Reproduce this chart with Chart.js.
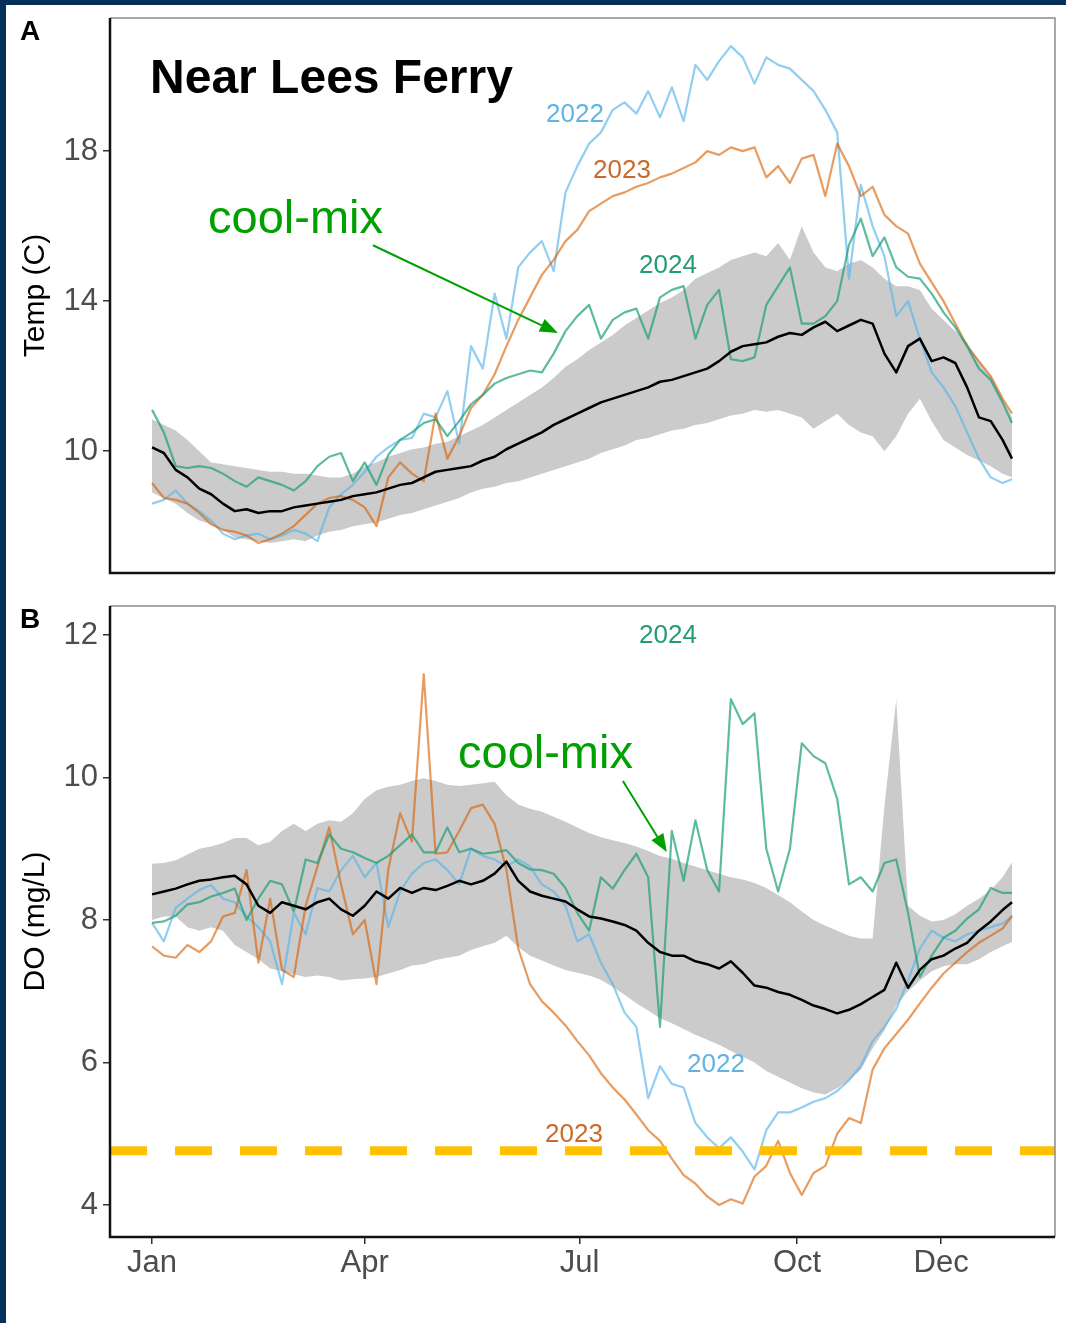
<!DOCTYPE html>
<html lang="en">
<head>
<meta charset="UTF-8">
<title>Near Lees Ferry</title>
<script src="https://cdn.jsdelivr.net/npm/chart.js"></script>
<style>
  html, body { margin: 0; padding: 0; background: #fff; }
  #page { position: relative; width: 1066px; height: 1323px; overflow: hidden; background: #fff; }
  canvas { position: absolute; left: 0; }
  #tempChart { top: 0; }
  #doChart { top: 590px; }
  .band { position: absolute; background: #04305a; z-index: 2; }
  .band.top { left: 0; top: 0; width: 1066px; height: 5px; }
  .band.left { left: 0; top: 0; width: 6px; height: 1323px; }
</style>
</head>
<body>
<div id="page">
  <canvas id="tempChart" width="1066" height="590"></canvas>
  <canvas id="doChart" width="1066" height="733"></canvas>
  <div class="band top"></div>
  <div class="band left"></div>
</div>

<script>
// day of year for every sample
const days = [1, 6, 11, 16, 21, 26, 31, 36, 41, 46, 51, 56, 61, 66, 71, 76, 81, 86, 91, 96,
  101, 106, 111, 116, 121, 126, 131, 136, 141, 146, 151, 156, 161, 166, 171, 176, 181, 186, 191, 196,
  201, 206, 211, 216, 221, 226, 231, 236, 241, 246, 251, 256, 261, 266, 271, 276, 281, 286, 291, 296,
  301, 306, 311, 316, 321, 326, 331, 336, 341, 346, 351, 356, 361, 365];

const tickDays = [1, 91, 182, 274, 335];
const tickLabels = ['Jan', 'Apr', 'Jul', 'Oct', 'Dec'];
const tempTicks = [10, 14, 18];
const doTicks = [4, 6, 8, 10, 12];
const doThreshold = 4.76;

// Panel A - water temperature (C)
const tempMean = [10.1, 9.95, 9.5, 9.3, 9.0, 8.85, 8.6, 8.4, 8.45, 8.35,
  8.4, 8.4, 8.5, 8.55, 8.6, 8.65, 8.7, 8.8, 8.85, 8.9,
  9.0, 9.1, 9.15, 9.3, 9.45, 9.5, 9.55, 9.6, 9.75, 9.85,
  10.05, 10.2, 10.35, 10.5, 10.7, 10.85, 11.0, 11.15, 11.3, 11.4,
  11.5, 11.6, 11.7, 11.85, 11.9, 12.0, 12.1, 12.2, 12.4, 12.65,
  12.8, 12.85, 12.9, 13.05, 13.15, 13.1, 13.3, 13.45, 13.2, 13.35,
  13.5, 13.4, 12.6, 12.1, 12.8, 13.0, 12.4, 12.5, 12.35, 11.7,
  10.9, 10.8, 10.3, 9.8];
const tempHi = [10.85, 10.7, 10.55, 10.3, 10.0, 9.7, 9.65, 9.6, 9.55, 9.5,
  9.45, 9.45, 9.4, 9.4, 9.35, 9.3, 9.3, 9.4, 9.6, 9.7,
  9.85, 9.95, 10.05, 10.1, 10.2, 10.25, 10.4, 10.55, 10.7, 10.9,
  11.1, 11.3, 11.5, 11.7, 11.95, 12.25, 12.45, 12.7, 12.9, 13.1,
  13.35, 13.55, 13.75, 13.95, 14.1, 14.3, 14.6, 14.75, 14.9, 15.1,
  15.2, 15.3, 15.2, 15.55, 15.1, 16.0, 15.3, 14.9, 14.8, 15.0,
  15.1, 14.9, 14.6, 14.4, 14.4, 14.3, 13.8, 13.5, 13.2, 12.9,
  12.4, 12.0, 11.4, 10.9];
const tempLo = [8.9, 8.75, 8.6, 8.35, 8.15, 8.05, 7.9, 7.7, 7.65, 7.6,
  7.55, 7.6, 7.65, 7.6, 7.75, 7.85, 7.9, 8.0, 8.05, 8.1,
  8.2, 8.3, 8.35, 8.45, 8.55, 8.65, 8.75, 8.9, 9.0, 9.05,
  9.15, 9.2, 9.3, 9.4, 9.5, 9.6, 9.7, 9.8, 9.95, 10.05,
  10.15, 10.3, 10.35, 10.45, 10.55, 10.6, 10.7, 10.75, 10.85, 10.95,
  11.0, 11.1, 11.05, 11.1, 11.0, 10.9, 10.6, 10.8, 11.0, 10.7,
  10.5, 10.4, 10.0, 10.4, 11.0, 11.4, 10.8, 10.3, 10.1, 9.9,
  9.75, 9.6, 9.4, 9.3];
const temp2022 = [8.6, 8.7, 8.95, 8.6, 8.4, 8.15, 7.8, 7.65, 7.75, 7.8,
  7.65, 7.75, 7.9, 7.8, 7.6, 8.5, 8.85, 9.1, 9.45, 9.85,
  10.1, 10.3, 10.35, 11.0, 10.9, 11.6, 10.2, 12.8, 12.2, 14.2,
  13.0, 14.9, 15.3, 15.6, 14.8, 16.9, 17.6, 18.2, 18.5, 19.1,
  19.3, 19.0, 19.6, 18.9, 19.7, 18.8, 20.3, 19.9, 20.4, 20.8,
  20.5, 19.8, 20.5, 20.3, 20.2, 19.9, 19.6, 19.1, 18.5, 14.6,
  17.1, 16.0, 15.2, 13.6, 14.0, 13.0, 12.1, 11.7, 11.2, 10.5,
  9.8, 9.3, 9.15, 9.25];
const temp2023 = [9.15, 8.75, 8.7, 8.6, 8.35, 8.05, 7.9, 7.85, 7.75, 7.55,
  7.65, 7.8, 8.0, 8.3, 8.6, 8.75, 8.8, 8.7, 8.5, 8.0,
  9.3, 9.7, 9.4, 9.2, 11.0, 9.8, 10.4, 11.15, 11.5, 12.05,
  12.8, 13.5, 14.1, 14.7, 15.1, 15.6, 15.9, 16.4, 16.6, 16.8,
  16.9, 17.05, 17.15, 17.3, 17.4, 17.55, 17.7, 18.0, 17.9, 18.1,
  18.0, 18.1, 17.3, 17.6, 17.15, 17.8, 17.9, 16.8, 18.2, 17.6,
  16.8, 17.05, 16.3, 16.0, 15.8, 15.0, 14.5, 14.0, 13.4, 12.8,
  12.4, 12.0, 11.4, 11.0];
const temp2024 = [11.1, 10.5, 9.6, 9.55, 9.6, 9.55, 9.4, 9.2, 9.05, 9.3,
  9.2, 9.1, 8.95, 9.2, 9.6, 9.85, 9.95, 9.2, 9.7, 9.1,
  9.9, 10.3, 10.5, 10.75, 10.85, 10.4, 10.8, 11.25, 11.5, 11.8,
  11.95, 12.05, 12.15, 12.1, 12.6, 13.2, 13.6, 13.9, 13.0, 13.5,
  13.7, 13.8, 13.0, 14.1, 14.3, 14.4, 13.0, 13.9, 14.3, 12.45,
  12.4, 12.5, 13.9, 14.4, 14.9, 13.4, 13.4, 13.6, 14.0, 15.5,
  16.2, 15.2, 15.7, 14.9, 14.65, 14.6, 14.2, 13.7, 13.3, 12.8,
  12.2, 11.9, 11.3, 10.75];

// Panel B - dissolved oxygen (mg/L)
const doMean = [8.36, 8.4, 8.44, 8.5, 8.55, 8.57, 8.6, 8.62, 8.5, 8.2,
  8.1, 8.25, 8.2, 8.15, 8.25, 8.3, 8.15, 8.06, 8.2, 8.4,
  8.3, 8.45, 8.38, 8.45, 8.42, 8.48, 8.55, 8.5, 8.55, 8.65,
  8.82, 8.55, 8.4, 8.34, 8.3, 8.26, 8.15, 8.05, 8.02, 7.98,
  7.93, 7.85, 7.68, 7.55, 7.5, 7.5, 7.42, 7.38, 7.32, 7.42,
  7.26, 7.08, 7.05, 6.99, 6.95, 6.88, 6.8, 6.75, 6.69, 6.74,
  6.82, 6.92, 7.02, 7.4, 7.05, 7.3, 7.45, 7.5, 7.6, 7.68,
  7.85, 7.98, 8.14, 8.25];
const doHi = [8.79, 8.8, 8.84, 8.92, 9.0, 9.03, 9.08, 9.15, 9.15, 9.05,
  9.1, 9.25, 9.35, 9.25, 9.35, 9.4, 9.38, 9.5, 9.7, 9.82,
  9.87, 9.9, 9.95, 9.99, 9.95, 9.9, 9.88, 9.9, 9.92, 9.94,
  9.75, 9.62, 9.56, 9.52, 9.45, 9.38, 9.3, 9.22, 9.16, 9.12,
  9.08, 9.03, 8.97, 8.9, 8.86, 8.8, 8.75, 8.7, 8.65, 8.6,
  8.57, 8.52, 8.45, 8.35, 8.25, 8.12, 8.0, 7.92, 7.85, 7.78,
  7.74, 7.74, 9.6, 11.1, 8.2, 8.06, 7.98, 8.0, 8.08, 8.2,
  8.3, 8.42, 8.6, 8.81];
const doLo = [8.0, 8.05, 8.05, 7.9, 7.85, 7.9, 7.85, 7.65, 7.55, 7.45,
  7.32, 7.28, 7.24, 7.2, 7.22, 7.2, 7.15, 7.17, 7.18, 7.2,
  7.25, 7.3, 7.36, 7.38, 7.44, 7.47, 7.5, 7.58, 7.63, 7.68,
  7.78, 7.62, 7.5, 7.43, 7.36, 7.3, 7.26, 7.22, 7.16, 7.06,
  6.95, 6.83, 6.73, 6.62, 6.55, 6.47, 6.39, 6.32, 6.25, 6.16,
  6.08, 6.0, 5.88, 5.8, 5.72, 5.64, 5.58, 5.55, 5.64, 5.75,
  5.9, 6.2, 6.45, 6.8, 7.0, 7.15, 7.28, 7.35, 7.38, 7.38,
  7.45, 7.55, 7.63, 7.69];
const do2022 = [7.96, 7.7, 8.17, 8.3, 8.42, 8.49, 8.3, 8.25, 8.05, 7.9,
  7.7, 7.1, 8.1, 7.8, 8.45, 8.4, 8.7, 8.9, 8.6, 8.8,
  7.9, 8.4, 8.65, 8.8, 8.85, 8.7, 8.5, 9.0, 8.9, 8.85,
  8.75, 8.85, 8.75, 8.5, 8.4, 8.2, 7.7, 7.8, 7.4, 7.1,
  6.7, 6.5, 5.5, 5.95, 5.7, 5.65, 5.15, 4.95, 4.8, 4.95,
  4.75, 4.5, 5.05, 5.3, 5.3, 5.37, 5.45, 5.5, 5.6, 5.75,
  5.95, 6.3, 6.5, 6.75, 7.15, 7.6, 7.85, 7.75, 7.7, 7.8,
  7.85, 7.9, 7.95, 8.05];
const do2023 = [7.63, 7.5, 7.47, 7.65, 7.55, 7.7, 8.05, 8.1, 8.7, 7.4,
  8.3, 7.3, 7.2, 8.2, 8.75, 9.3, 8.5, 7.8, 8.0, 7.1,
  8.71, 9.5, 9.1, 11.45, 8.93, 8.95, 9.25, 9.57, 9.62, 9.35,
  8.7, 7.6, 7.1, 6.86, 6.7, 6.52, 6.3, 6.1, 5.85, 5.65,
  5.48, 5.27, 5.05, 4.9, 4.65, 4.42, 4.3, 4.12, 4.0, 4.08,
  4.02, 4.4, 4.55, 4.9, 4.45, 4.14, 4.45, 4.55, 5.0, 5.22,
  5.15, 5.9, 6.2, 6.4, 6.6, 6.83, 7.05, 7.25, 7.4, 7.55,
  7.68, 7.78, 7.88, 8.06];
const do2024 = [7.96, 7.98, 8.06, 8.22, 8.25, 8.33, 8.38, 8.44, 8.0, 8.3,
  8.55, 8.5, 8.12, 8.85, 8.8, 9.2, 9.0, 8.95, 8.87, 8.8,
  8.9, 9.05, 9.2, 8.95, 8.95, 9.3, 8.95, 9.0, 8.93, 8.95,
  8.98, 8.8, 8.71, 8.7, 8.65, 8.45, 8.1, 7.85, 8.6, 8.44,
  8.7, 8.93, 8.6, 6.5, 9.25, 8.55, 9.4, 8.7, 8.4, 11.1,
  10.75, 10.9, 9.0, 8.4, 9.0, 10.48, 10.3, 10.2, 9.7, 8.5,
  8.6, 8.4, 8.8, 8.85, 8.1, 7.2, 7.5, 7.75, 7.85, 8.02,
  8.15, 8.45, 8.38, 8.38];

const xMin = -16.8, xMax = 383.2;
const col2022 = 'rgba(86, 180, 233, 0.65)';
const col2023 = 'rgba(217, 95, 2, 0.62)';
const col2024 = 'rgba(27, 158, 119, 0.7)';
const txt2022 = '#62b3e3', txt2023 = '#c9692a', txt2024 = '#239b77';
const green = '#00a000';

Chart.defaults.font.family = "'Liberation Sans', Arial, sans-serif";

function pts(arr) {
  return days.map((d, i) => ({ x: d, y: arr[i] }));
}

function panelDatasets(lo, hi, y22, y23, y24, mean) {
  const line = (arr, color, w, order) => ({
    data: pts(arr), borderColor: color, borderWidth: w, pointRadius: 0, fill: false, order: order
  });
  return [
    { data: pts(lo), borderWidth: 0, pointRadius: 0, fill: false, order: 10 },
    { data: pts(hi), borderWidth: 0, pointRadius: 0, fill: '-1', backgroundColor: '#cbcbcb', order: 9 },
    line(y22, col2022, 2.2, 5),
    line(y23, col2023, 2.2, 4),
    line(y24, col2024, 2.2, 3),
    line(mean, '#000', 2.5, 1)
  ];
}

// draws the panel frame, letters, labels and arrows
const decorations = {
  id: 'decorations',
  afterDatasetsDraw(chart, args, opts) {
    const { ctx, chartArea: a } = chart;
    const x = chart.scales.x, y = chart.scales.y;
    ctx.save();
    ctx.strokeStyle = '#8c8c8c';
    ctx.lineWidth = 1.5;
    ctx.beginPath();
    ctx.moveTo(a.left, a.top);
    ctx.lineTo(a.right, a.top);
    ctx.lineTo(a.right, a.bottom);
    ctx.stroke();
    ctx.strokeStyle = '#111';
    ctx.lineWidth = 2.5;
    ctx.beginPath();
    ctx.moveTo(a.left, a.top);
    ctx.lineTo(a.left, a.bottom);
    ctx.lineTo(a.right, a.bottom);
    ctx.stroke();

    ctx.fillStyle = '#000';
    ctx.font = "bold 28px 'Liberation Sans', Arial, sans-serif";
    ctx.textAlign = 'left';
    ctx.textBaseline = 'alphabetic';
    ctx.fillText(opts.letter.text, opts.letter.px, opts.letter.py);

    opts.notes.forEach(n => {
      ctx.font = n.font + " 'Liberation Sans', Arial, sans-serif";
      ctx.fillStyle = n.color;
      ctx.textAlign = n.align;
      ctx.fillText(n.text, x.getPixelForValue(n.day), y.getPixelForValue(n.val));
    });

    opts.arrows.forEach(ar => {
      const x1 = x.getPixelForValue(ar.from[0]), y1 = y.getPixelForValue(ar.from[1]);
      const x2 = x.getPixelForValue(ar.to[0]), y2 = y.getPixelForValue(ar.to[1]);
      const ang = Math.atan2(y2 - y1, x2 - x1);
      const hl = 18, hw = 7;
      const bx = x2 - hl * Math.cos(ang), by = y2 - hl * Math.sin(ang);
      ctx.strokeStyle = green;
      ctx.fillStyle = green;
      ctx.lineWidth = 2;
      ctx.beginPath();
      ctx.moveTo(x1, y1);
      ctx.lineTo(bx, by);
      ctx.stroke();
      ctx.beginPath();
      ctx.moveTo(x2, y2);
      ctx.lineTo(bx + hw * Math.sin(ang), by - hw * Math.cos(ang));
      ctx.lineTo(bx - hw * Math.sin(ang), by + hw * Math.cos(ang));
      ctx.closePath();
      ctx.fill();
    });
    ctx.restore();
  }
};

function yScale(min, max, ticks, title) {
  return {
    type: 'linear', min: min, max: max,
    afterBuildTicks: s => { s.ticks = ticks.map(v => ({ value: v })); },
    afterFit: s => { s.width = 110; s.paddingTop = 0; s.paddingBottom = 0; },
    border: { display: false },
    grid: { drawOnChartArea: false, drawTicks: true, tickLength: 7, color: '#333', lineWidth: 1.5 },
    ticks: { color: '#4d4d4d', font: { size: 31 }, padding: 5 },
    title: { display: true, text: title, color: '#000', font: { size: 30 }, padding: { top: 18, bottom: 0 } }
  };
}

function baseOptions(padding, scales, deco) {
  return {
    responsive: false,
    animation: false,
    devicePixelRatio: 1,
    layout: { padding: padding },
    plugins: { legend: { display: false }, tooltip: { enabled: false }, decorations: deco },
    elements: { line: { tension: 0, borderJoinStyle: 'round' } },
    scales: scales
  };
}

// Panel A
new Chart(document.getElementById('tempChart'), {
  type: 'line',
  data: { datasets: panelDatasets(tempLo, tempHi, temp2022, temp2023, temp2024, tempMean) },
  options: baseOptions({ left: 0, top: 18, right: 11, bottom: 17 }, {
    x: {
      type: 'linear', min: xMin, max: xMax,
      afterFit: s => { s.height = 0; s.paddingLeft = 0; s.paddingRight = 0; },
      border: { display: false }, grid: { display: false }, ticks: { display: false }
    },
    y: yScale(6.75, 21.55, tempTicks, 'Temp (C)')
  }, {
    letter: { text: 'A', px: 20, py: 40 },
    notes: [
      { text: 'Near Lees Ferry', day: 0.15, val: 19.55, font: 'bold 48px', color: '#000', align: 'left' },
      { text: 'cool-mix', day: 24.7, val: 15.81, font: '47px', color: green, align: 'left' },
      { text: '2022', day: 180, val: 18.77, font: '26px', color: txt2022, align: 'center' },
      { text: '2023', day: 199.9, val: 17.28, font: '26px', color: txt2023, align: 'center' },
      { text: '2024', day: 219.4, val: 14.75, font: '26px', color: txt2024, align: 'center' }
    ],
    arrows: [{ from: [94.5, 15.49], to: [172.8, 13.15] }]
  }),
  plugins: [decorations]
});

// Panel B
const doSets = panelDatasets(doLo, doHi, do2022, do2023, do2024, doMean);
doSets.push({
  data: [{ x: xMin, y: doThreshold }, { x: xMax, y: doThreshold }],
  borderColor: '#ffc000', borderWidth: 9, borderDash: [37, 28], borderCapStyle: 'butt',
  pointRadius: 0, fill: false, order: 0
});

new Chart(document.getElementById('doChart'), {
  type: 'line',
  data: { datasets: doSets },
  options: baseOptions({ left: 0, top: 16, right: 11, bottom: 0 }, {
    x: {
      type: 'linear', min: xMin, max: xMax,
      afterBuildTicks: s => { s.ticks = tickDays.map(v => ({ value: v })); },
      afterFit: s => { s.height = 86; s.paddingLeft = 0; s.paddingRight = 0; },
      border: { display: false },
      grid: { drawOnChartArea: false, drawTicks: true, tickLength: 7, color: '#333', lineWidth: 1.5 },
      ticks: { color: '#4d4d4d', font: { size: 31 }, padding: 1, maxRotation: 0, autoSkip: false,
        callback: (v, i) => tickLabels[i] }
    },
    y: yScale(3.551, 12.407, doTicks, 'DO (mg/L)')
  }, {
    letter: { text: 'B', px: 20, py: 38 },
    notes: [
      { text: 'cool-mix', day: 130.5, val: 10.13, font: '47px', color: green, align: 'left' },
      { text: '2024', day: 219.4, val: 11.89, font: '26px', color: txt2024, align: 'center' },
      { text: '2022', day: 239.7, val: 5.87, font: '26px', color: txt2022, align: 'center' },
      { text: '2023', day: 179.6, val: 4.88, font: '26px', color: txt2023, align: 'center' }
    ],
    arrows: [{ from: [200.3, 9.95], to: [218.9, 8.955] }]
  }),
  plugins: [decorations]
});
</script>
</body>
</html>
